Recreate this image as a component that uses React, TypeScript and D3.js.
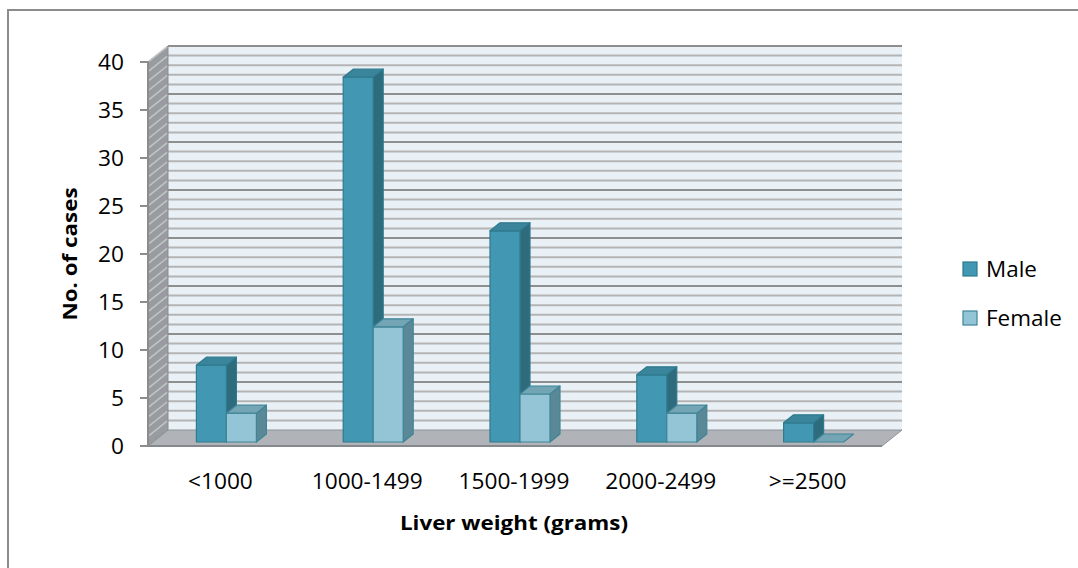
import React from "react";
import * as d3 from "d3";

const categories = ["<1000", "1000-1499", "1500-1999", "2000-2499", ">=2500"];
const seriesNames = ["Male", "Female"];
const maleValues = [8, 38, 22, 7, 2];
const femaleValues = [3, 12, 5, 3, 0];
const yTicks = [0, 5, 10, 15, 20, 25, 30, 35, 40];

const W = 1078;
const H = 568;
const FONT = "'Open Sans', 'Liberation Sans', sans-serif";

const colors: Record<string, { front: string; side: string; top: string; stroke: string }> = {
  Male: { front: "#4298B2", side: "#2D6B7D", top: "#3A859B", stroke: "#2E7A8E" },
  Female: { front: "#93C5D6", side: "#5A8897", top: "#74A5B4", stroke: "#3F8598" },
};

function Txt({ x, y, anchor = "start", size = 20, sx = 1.12, weight = 400, rotate = 0, children }: any) {
  const tr = rotate
    ? `translate(${x},${y}) rotate(${rotate}) scale(${sx},1)`
    : `translate(${x},${y}) scale(${sx},1)`;
  return (
    <text transform={tr} textAnchor={anchor} fontFamily={FONT} fontSize={size} fontWeight={weight} fill="#000">
      {children}
    </text>
  );
}

export default function App() {
  const x0 = 148, x1 = 882, yB = 446, yT = 62;
  const DX = 20, DY = -16;
  const y = d3.scaleLinear().domain([0, 40]).range([yB, yT]);
  const xb = d3.scaleBand<string>().domain(categories).range([x0, x1]);
  const groupW = 60;
  const xs = d3.scaleBand<string>().domain(seriesNames).range([0, groupW]);
  const p = (x: number, yy: number, d: number) => [x + DX * d, yy + DY * d];
  const pts = (arr: number[][]) => arr.map((q) => q.join(",")).join(" ");
  const d0 = 0.25, d1 = 0.75;

  const minor = d3.range(1, 41);

  const bars: any[] = [];
  categories.forEach((c, i) => {
    seriesNames.forEach((s) => {
      const v = s === "Male" ? maleValues[i] : femaleValues[i];
      const xL = (xb(c) as number) + (xb.bandwidth() - groupW) / 2 + (xs(s) as number);
      const w = xs.bandwidth();
      const col = colors[s];
      const yt = y(v), y0 = y(0);
      const front = [p(xL, yt, d0), p(xL + w, yt, d0), p(xL + w, y0, d0), p(xL, y0, d0)];
      const side = [p(xL + w, yt, d0), p(xL + w, yt, d1), p(xL + w, y0, d1), p(xL + w, y0, d0)];
      const top = [p(xL, yt, d0), p(xL + w, yt, d0), p(xL + w, yt, d1), p(xL, yt, d1)];
      bars.push(
        <g key={c + s}>
          {v > 0 && <polygon points={pts(side)} fill={col.side} stroke={col.stroke} strokeWidth={1.2} strokeLinejoin="round" />}
          {v > 0 && <polygon points={pts(front)} fill={col.front} stroke={col.stroke} strokeWidth={1.2} strokeLinejoin="round" />}
          <polygon points={pts(top)} fill={col.top} stroke={col.stroke} strokeWidth={1.2} strokeLinejoin="round" />
        </g>
      );
    });
  });

  return (
    <svg width={W} height={H} style={{ position: "absolute", left: 0, top: 0 }}>
      <rect x={0} y={0} width={W} height={H} fill="#fff" />
      <rect x={8} y={10} width={W + 20} height={H + 20} fill="none" stroke="#8C8C8C" strokeWidth={2} />

      {/* back wall */}
      <polygon points={pts([p(x0, yT, 1), p(x1, yT, 1), p(x1, yB, 1), p(x0, yB, 1)])} fill="#E9F0F6" />
      {minor.map((v) => (
        <line key={"g" + v} x1={x0 + DX} x2={x1 + DX} y1={y(v) + DY} y2={y(v) + DY}
          stroke={v % 5 === 0 ? "#8E8E8E" : "#B4B4B4"} strokeWidth={2} />
      ))}

      {/* left wall */}
      <polygon points={pts([p(x0, yB, 0), p(x0, yT, 0), p(x0, yT, 1), p(x0, yB, 1)])} fill="#989CA0" stroke="#8A8E92" strokeWidth={1} />
      {minor.map((v) => (
        <line key={"s" + v} x1={x0 + 1} y1={y(v) - 0.8} x2={x0 + DX - 1} y2={y(v) + DY + 0.8}
          stroke="#C2C4C6" strokeWidth={1.5} />
      ))}

      {/* floor */}
      <polygon points={pts([p(x0, yB, 0), p(x1, yB, 0), p(x1, yB, 1), p(x0, yB, 1)])} fill="#B0B4B8" stroke="#8E9296" strokeWidth={1} />
      <line x1={x0} x2={x1} y1={yB} y2={yB} stroke="#85898D" strokeWidth={2} />

      {bars}

      {/* y axis ticks */}
      <line x1={x0} x2={x0} y1={yT} y2={yB} stroke="#8C8C8C" strokeWidth={2} />
      {yTicks.map((t) => (
        <g key={"t" + t}>
          <line x1={x0 - 8} x2={x0} y1={y(t)} y2={y(t)} stroke="#8C8C8C" strokeWidth={2} />
          <Txt x={124} y={y(t) + 7.5} anchor="end" size={21} sx={1.08}>{t}</Txt>
        </g>
      ))}

      {/* category labels */}
      {categories.map((c) => (
        <Txt key={"c" + c} x={(xb(c) as number) + xb.bandwidth() / 2 - 1} y={489} anchor="middle" size={21} sx={1.08}>{c}</Txt>
      ))}

      <Txt x={514} y={530} anchor="middle" weight={700}>Liver weight (grams)</Txt>
      <Txt x={77} y={254} anchor="middle" weight={700} rotate={-90}>No. of cases</Txt>

      {/* legend */}
      {seriesNames.map((s, i) => (
        <g key={"l" + s}>
          <rect x={963} y={262 + i * 49} width={14} height={14} fill={colors[s].front} stroke={colors[s].stroke} strokeWidth={1.2} />
          <Txt x={986} y={276.5 + i * 49} size={21} sx={1.07}>{s}</Txt>
        </g>
      ))}
    </svg>
  );
}
